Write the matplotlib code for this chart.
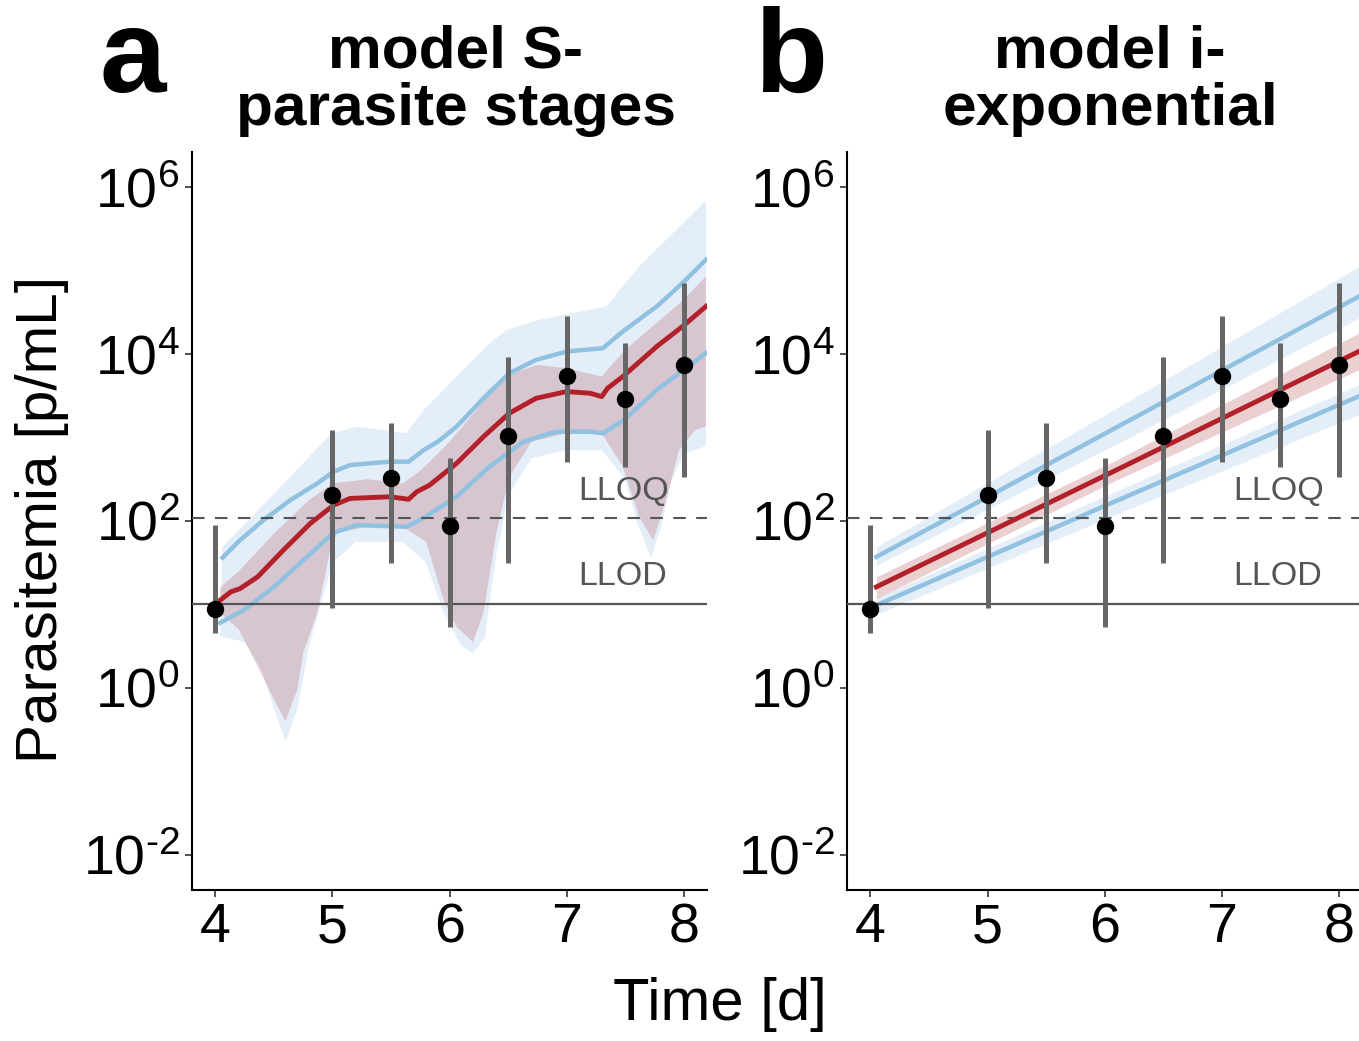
import numpy as np
import matplotlib.pyplot as plt
from matplotlib.ticker import FixedLocator, FixedFormatter, NullLocator

plt.rcParams['font.family'] = ['Liberation Sans', 'DejaVu Sans']
plt.rcParams['mathtext.fontset'] = 'custom'
plt.rcParams['mathtext.rm'] = 'Liberation Sans'
plt.rcParams['mathtext.it'] = 'Liberation Sans:italic'
plt.rcParams['mathtext.bf'] = 'Liberation Sans:bold'

# observed parasitemia, log10(p/mL), with error bars
obs_time = [4, 5, 5.5, 6, 6.5, 7, 7.5, 8]
obs_log = [0.95, 2.31, 2.51, 1.94, 3.02, 3.74, 3.46, 3.87]
obs_log_hi = [1.95, 3.09, 3.17, 2.75, 3.96, 4.45, 4.13, 4.85]
obs_log_lo = [0.66, 0.96, 1.50, 0.73, 1.50, 2.71, 2.65, 2.53]

LLOQ = 108
LLOD = 10

# ---- model S (parasite stages), log10 values ----
a_med_t = [4.04, 4.13, 4.21, 4.36, 4.58, 4.81, 5.01, 5.15, 5.49, 5.65, 5.72, 5.83,
           6.06, 6.29, 6.51, 6.74, 7.00, 7.20, 7.30, 7.35, 7.48, 7.77, 7.99, 8.19]
a_med = [1.05, 1.15, 1.19, 1.33, 1.65, 1.97, 2.19, 2.27, 2.29, 2.26, 2.35, 2.43,
         2.69, 3.01, 3.29, 3.47, 3.55, 3.53, 3.49, 3.59, 3.73, 4.09, 4.33, 4.57]

a_up_t = [4.06, 4.21, 4.41, 4.64, 4.87, 5.01, 5.15, 5.49, 5.65, 5.78, 5.90,
          6.06, 6.29, 6.51, 6.74, 7.00, 7.31, 7.48, 7.77, 7.99, 8.19]
a_up = [1.56, 1.77, 2.01, 2.25, 2.45, 2.59, 2.67, 2.71, 2.71, 2.85, 2.95,
        3.13, 3.47, 3.77, 3.93, 4.03, 4.07, 4.27, 4.57, 4.85, 5.13]

a_low_t = [4.04, 4.24, 4.50, 4.78, 5.01, 5.21, 5.63, 5.77, 6.06, 6.34, 6.63,
           6.91, 7.20, 7.31, 7.48, 7.77, 8.19]
a_low = [0.78, 0.93, 1.21, 1.57, 1.86, 1.95, 1.93, 2.03, 2.29, 2.65, 2.95,
         3.07, 3.07, 3.05, 3.20, 3.57, 4.01]

a_env_top_t = [4.06, 4.64, 4.99, 5.21, 5.63, 5.78, 6.06, 6.34, 6.49, 6.77, 7.05,
               7.34, 7.62, 7.91, 8.19]
a_env_top = [1.69, 2.53, 3.05, 3.13, 3.05, 3.33, 3.73, 4.13, 4.29, 4.41, 4.49,
             4.57, 5.05, 5.45, 5.84]
a_env_bot_t = [4.04, 4.25, 4.40, 4.50, 4.60, 4.70, 4.80, 4.90, 5.00, 5.20, 5.60,
               5.80, 5.95, 6.10, 6.20, 6.30, 6.40, 6.50, 6.70, 7.00, 7.30, 7.50,
               7.60, 7.72, 7.80, 7.90, 8.00, 8.19]
a_env_bot = [0.62, 0.55, 0.20, -0.25, -0.65, -0.25, 0.50, 1.00, 1.50, 1.75, 1.75,
             1.50, 0.90, 0.50, 0.42, 0.60, 1.60, 2.30, 2.75, 2.85, 2.85, 2.50,
             2.00, 1.55, 1.90, 2.50, 2.80, 2.90]

a_red_hi_t = [4.04, 4.20, 4.50, 4.80, 5.00, 5.30, 5.60, 5.75, 6.00, 6.30, 6.50,
              6.75, 7.00, 7.30, 7.50, 8.00, 8.19]
a_red_hi = [1.20, 1.40, 1.85, 2.25, 2.45, 2.50, 2.45, 2.60, 2.95, 3.45, 3.75,
            3.87, 3.83, 3.73, 4.05, 4.65, 4.93]
a_red_lo_t = [4.04, 4.20, 4.36, 4.50, 4.60, 4.65, 4.70, 4.75, 4.87, 4.98, 5.04,
              5.30, 5.60, 5.80, 5.95, 6.06, 6.20, 6.29, 6.40, 6.51, 6.70, 7.00,
              7.30, 7.48, 7.62, 7.74, 7.85, 7.96, 8.10, 8.19]
a_red_lo = [0.90, 0.70, 0.26, -0.14, -0.40, -0.20, -0.02, 0.42, 0.90, 1.65, 1.86,
            1.93, 1.93, 1.75, 1.05, 0.73, 0.55, 0.90, 1.86, 2.53, 2.95, 3.05,
            3.05, 2.65, 2.05, 1.77, 2.25, 2.85, 3.09, 3.13]

# ---- model i (exponential), log10 values ----
b_t = [4.05, 6.10, 8.20]
b_med = [1.21, 2.61, 4.05]
b_med_hi = [1.33, 2.73, 4.27]
b_med_lo = [1.07, 2.49, 3.83]
b_up = [1.57, 3.12, 4.71]
b_up_hi = [1.69, 3.35, 5.07]
b_up_lo = [1.47, 2.92, 4.45]
b_low = [0.99, 2.24, 3.51]
b_low_hi = [1.08, 2.36, 3.65]
b_low_lo = [0.88, 2.08, 3.29]

ytick_pow = [-2, 0, 2, 4, 6]
xticks = [4, 5, 6, 7, 8]

ENV = '#e4eef8'
BLUE = '#90c1e0'
RED = '#b2202a'
RIBBON = (0.65, 0.16, 0.2)
GREY = '#666666'


def p(v):
    return 10.0 ** np.asarray(v)


def polygon(ax, t_top, top, t_bot, bot, **kw):
    xs = np.r_[t_top, t_bot[::-1]]
    ys = np.r_[p(top), p(bot[::-1])]
    ax.fill(xs, ys, lw=0, **kw)


def tick_text(k):
    s = str(k).replace('-', '\u2010')
    return '$\\mathregular{10^{%s}}$' % s


def common(ax):
    ax.set_yscale('log')
    ax.set_xlim(3.8, 8.2)
    ax.set_ylim(10 ** -2.42, 10 ** 6.42)
    ax.yaxis.set_major_locator(FixedLocator([10.0 ** k for k in ytick_pow]))
    ax.yaxis.set_major_formatter(FixedFormatter([tick_text(k) for k in ytick_pow]))
    ax.yaxis.set_minor_locator(NullLocator())
    ax.set_xticks(xticks)
    ax.set_xticklabels([str(x) for x in xticks])
    for s in ['top', 'right']:
        ax.spines[s].set_visible(False)
    for s in ['left', 'bottom']:
        ax.spines[s].set_linewidth(1.5)
    ax.tick_params(axis='both', direction='out', length=5, width=1.2,
                   color='#333333', labelsize=40, pad=4)
    ax.axhline(LLOQ, color='#555555', lw=1.5, ls=(0, (6, 5)), zorder=3)
    ax.axhline(LLOD, color='#555555', lw=1.6, zorder=3)
    ax.text(7.1, 10 ** 2.25, 'LLOQ', fontsize=24.5, color='#555555', va='baseline')
    ax.text(7.1, 10 ** 1.23, 'LLOD', fontsize=24.5, color='#555555', va='baseline')
    lo = p(obs_log) - p(obs_log_lo)
    hi = p(obs_log_hi) - p(obs_log)
    ax.errorbar(obs_time, p(obs_log), yerr=[lo, hi], fmt='none', ecolor=GREY,
                elinewidth=3.6, capsize=0, zorder=5)
    ax.plot(obs_time, p(obs_log), 'o', color='black', ms=11.5, zorder=6)


fig = plt.figure(figsize=(13.59, 10.41), dpi=100)
ax_a = fig.add_axes([0.1413, 0.1451, 0.3790, 0.7089])
ax_b = fig.add_axes([0.6233, 0.1451, 0.3790, 0.7089])

# panel a
polygon(ax_a, a_env_top_t, a_env_top, a_env_bot_t, a_env_bot, color=ENV, zorder=1)
polygon(ax_a, a_red_hi_t, a_red_hi, a_red_lo_t, a_red_lo, color=RIBBON,
        alpha=0.2, zorder=2)
ax_a.plot(a_up_t, p(a_up), color=BLUE, lw=3.2, zorder=3)
ax_a.plot(a_low_t, p(a_low), color=BLUE, lw=3.2, zorder=3)
ax_a.plot(a_med_t, p(a_med), color=RED, lw=3.5, zorder=4)
common(ax_a)

# panel b
ax_b.fill_between(b_t, p(b_up_lo), p(b_up_hi), color=ENV, lw=0, zorder=1)
ax_b.fill_between(b_t, p(b_low_lo), p(b_low_hi), color=ENV, lw=0, zorder=1)
ax_b.fill_between(b_t, p(b_med_lo), p(b_med_hi), color=RIBBON, alpha=0.22,
                  lw=0, zorder=2)
ax_b.plot(b_t, p(b_up), color=BLUE, lw=3.2, zorder=3)
ax_b.plot(b_t, p(b_low), color=BLUE, lw=3.2, zorder=3)
ax_b.plot(b_t, p(b_med), color=RED, lw=3.5, zorder=4)
common(ax_b)

# titles and labels
for cx, l1, l2 in [(0.3352, 'model S-', 'parasite stages'),
                   (0.8169, 'model i-', 'exponential')]:
    fig.text(cx, 0.9347, l1, ha='center', va='baseline', fontsize=43.5,
             fontweight='bold')
    fig.text(cx, 0.8799, l2, ha='center', va='baseline', fontsize=43.5,
             fontweight='bold')
fig.text(0.073, 0.9116, 'a', fontsize=86, fontweight='bold', va='baseline')
fig.text(0.555, 0.9116, 'b', fontsize=86, fontweight='bold', va='baseline')

fig.text(0.031, 0.5005, 'Parasitemia [p/mL]', rotation=90, fontsize=42,
         ha='center', va='center')
fig.text(0.530, 0.0346, 'Time [d]', fontsize=43, ha='center', va='center')

fig.savefig('out.png', dpi=100)
